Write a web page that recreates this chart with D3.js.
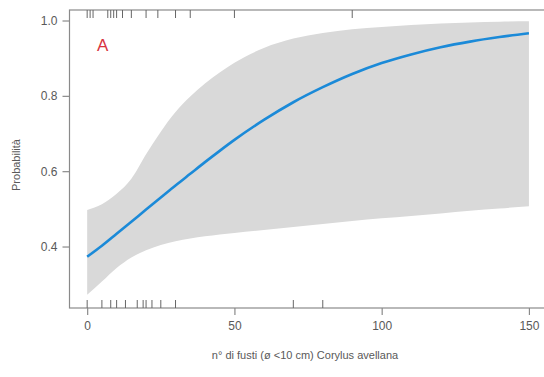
<!DOCTYPE html>
<html>
<head>
<meta charset="utf-8">
<script src="https://cdn.jsdelivr.net/npm/d3@7"></script>
<style>
  body { margin: 0; background: #fff; }
  svg { display: block; font-family: "Liberation Sans", Arial, sans-serif; }
</style>
</head>
<body>
<svg id="chart" width="544" height="377"></svg>
<script>
// values
var stems = [0, 5, 10, 15, 20, 25, 30, 35, 40, 45, 50, 60, 70, 80, 90, 100, 110, 120, 130, 140, 150];
var fit   = [0.373, 0.402, 0.434, 0.466, 0.498, 0.530, 0.562, 0.593, 0.624, 0.654, 0.683, 0.736, 0.783, 0.823, 0.858, 0.887, 0.910, 0.929, 0.944, 0.956, 0.966];
var upper = [0.497, 0.512, 0.540, 0.580, 0.645, 0.705, 0.757, 0.798, 0.833, 0.862, 0.888, 0.927, 0.952, 0.967, 0.977, 0.983, 0.988, 0.992, 0.995, 0.997, 0.998];
var lower = [0.272, 0.307, 0.343, 0.371, 0.390, 0.404, 0.414, 0.421, 0.427, 0.432, 0.436, 0.444, 0.452, 0.460, 0.468, 0.475, 0.481, 0.488, 0.495, 0.501, 0.507];

// rug: observations present (top) and absent (bottom)
var rugTop = [0, 1, 2, 7, 8, 9, 10, 12, 15, 20, 24, 30, 35, 50, 90];
var rugBottom = [0, 5, 8, 10, 13, 17, 19, 20, 22, 25, 30, 70, 80];

var xTicks = [0, 50, 100, 150];
var yTicks = [0.4, 0.6, 0.8, 1.0];

var svg = d3.select("#chart");

// plot box edges (window.top is reserved, so no plain "top")
var box = {left: 69.5, right: 546, top: 10, bottom: 308};

var x = d3.scaleLinear().domain([-6, 156]).range([box.left, box.right + 0.6]);
var y = d3.scaleLinear().domain([0.2368, 1.0279]).range([box.bottom, box.top]);

var data = stems.map(function(s, i) {
    return {s: s, fit: fit[i], lo: lower[i], hi: upper[i]};
});

// confidence band
var band = d3.area()
    .x(function(d) { return x(d.s); })
    .y0(function(d) { return y(d.lo); })
    .y1(function(d) { return y(d.hi); })
    .curve(d3.curveMonotoneX);

svg.append("path")
    .datum(data)
    .attr("d", band)
    .attr("fill", "#d9d9d9");

// fitted line
var line = d3.line()
    .x(function(d) { return x(d.s); })
    .y(function(d) { return y(d.fit); })
    .curve(d3.curveMonotoneX);

svg.append("path")
    .datum(data)
    .attr("d", line)
    .attr("fill", "none")
    .attr("stroke", "#1b8ad8")
    .attr("stroke-width", 2.6);

// box
svg.append("rect")
    .attr("x", box.left).attr("y", box.top)
    .attr("width", box.right - box.left).attr("height", box.bottom - box.top)
    .attr("fill", "none")
    .attr("stroke", "#8a8a8a")
    .attr("stroke-width", 1.2);

// rugs
svg.append("g").selectAll("line")
    .data(rugTop).enter().append("line")
    .attr("x1", function(d) { return x(d); })
    .attr("x2", function(d) { return x(d); })
    .attr("y1", box.top).attr("y2", box.top + 8)
    .attr("stroke", "#666").attr("stroke-width", 1);

svg.append("g").selectAll("line")
    .data(rugBottom).enter().append("line")
    .attr("x1", function(d) { return x(d); })
    .attr("x2", function(d) { return x(d); })
    .attr("y1", box.bottom - 8).attr("y2", box.bottom)
    .attr("stroke", "#666").attr("stroke-width", 1);

// axes
var xAxis = svg.append("g")
    .attr("transform", "translate(0," + box.bottom + ")")
    .call(d3.axisBottom(x).tickValues(xTicks).tickSize(7).tickPadding(6).tickFormat(d3.format("d")));
xAxis.select(".domain").remove();

var yAxis = svg.append("g")
    .attr("transform", "translate(" + box.left + ",0)")
    .call(d3.axisLeft(y).tickValues(yTicks).tickSize(7).tickPadding(5).tickFormat(d3.format(".1f")));
yAxis.select(".domain").remove();

svg.selectAll(".tick line").attr("stroke", "#8a8a8a").attr("stroke-width", 1.2);
svg.selectAll(".tick text")
    .attr("fill", "#595959")
    .style("font-size", "12px")
    .style("font-family", "Liberation Sans, Arial, sans-serif");

// axis titles
svg.append("text")
    .attr("x", 305).attr("y", 359)
    .attr("text-anchor", "middle")
    .attr("fill", "#595959")
    .style("font-size", "11px")
    .text("n° di fusti (ø <10 cm) Corylus avellana");

svg.append("text")
    .attr("transform", "translate(20,165) rotate(-90)")
    .attr("text-anchor", "middle")
    .attr("fill", "#595959")
    .style("font-size", "11px")
    .text("Probabilità");

// panel letter
svg.append("text")
    .attr("x", 97).attr("y", 51)
    .attr("fill", "#d8323f")
    .style("font-size", "17px")
    .text("A");
</script>
</body>
</html>
